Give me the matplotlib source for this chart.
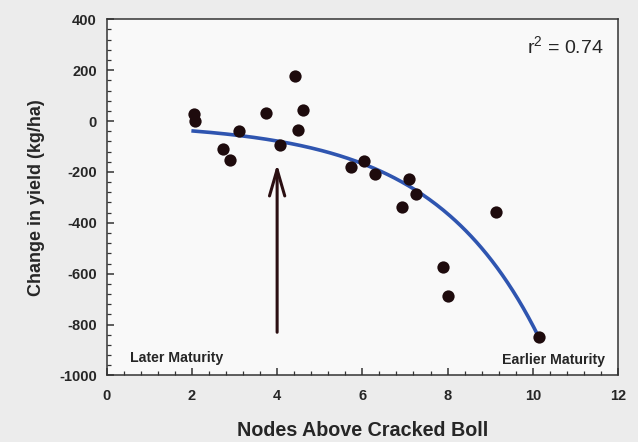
import numpy as np
import matplotlib.pyplot as plt
from matplotlib.patches import FancyArrowPatch
from matplotlib.ticker import MultipleLocator

# nodes above cracked boll vs change in yield (kg/ha)
nacb = [2.04, 2.08, 3.11, 2.73, 2.89, 3.73, 4.06, 4.41, 4.60, 4.49,
        5.73, 6.05, 6.30, 7.09, 7.27, 6.94, 9.13, 7.90, 8.00, 10.14]
yield_change = [29, 0, -39, -111, -152, 31, -93, 179, 42, -37,
                -181, -158, -209, -227, -288, -339, -357, -575, -688, -850]

# fitted curve: y = a + b*exp(k*x), drawn over the data range
fit_a, fit_b, fit_k = -6.1, -14.6, 0.40
fit_range = (2.03, 10.14)

arrow_x = 4.0
arrow_from, arrow_to = -841, -158

plt.rcParams['font.family'] = ['Liberation Sans', 'DejaVu Sans']
plt.rcParams['axes.unicode_minus'] = False
plt.rcParams['mathtext.fontset'] = 'custom'
plt.rcParams['mathtext.rm'] = 'Liberation Sans'
txt = '#262626'

fig = plt.figure(figsize=(6.38, 4.42), dpi=100, facecolor='#ececec')
ax = fig.add_axes([0.1672, 0.1505, 0.8015, 0.8058], facecolor='#f9f9f9')

xf = np.linspace(fit_range[0], fit_range[1], 200)
ax.plot(xf, fit_a + fit_b * np.exp(fit_k * xf), color='#2f55b0', lw=2.6, zorder=2)
ax.scatter(nacb, yield_change, s=78, color='#1e0b0d', zorder=3, linewidths=0)

arr = FancyArrowPatch((arrow_x, arrow_from), (arrow_x, arrow_to),
                      arrowstyle='->,head_length=19,head_width=5.5',
                      mutation_scale=1, color='#2b0f12', lw=2.2, zorder=4)
ax.add_patch(arr)

ax.text(11.67, 290, r'r$^{\mathrm{2}}$ = 0.74', ha='right', va='center', fontsize=14, color=txt)
ax.text(0.55, -931, 'Later Maturity', ha='left', va='center', fontsize=10.2,
        fontweight='bold', color=txt)
ax.text(11.7, -939, 'Earlier Maturity', ha='right', va='center', fontsize=10.2,
        fontweight='bold', color=txt)

ax.set_xlim(0, 12)
ax.set_ylim(-1000, 400)
ax.xaxis.set_major_locator(MultipleLocator(2))
ax.xaxis.set_minor_locator(MultipleLocator(0.4))
ax.yaxis.set_major_locator(MultipleLocator(200))
ax.yaxis.set_minor_locator(MultipleLocator(40))
ax.tick_params(which='both', direction='in', top=False, right=False, colors='#333333')
ax.tick_params(which='major', length=5, width=1.1, labelsize=10.5, pad=7)
ax.tick_params(axis='x', which='major', pad=10)
ax.tick_params(which='minor', length=3, width=0.9)
for lbl in ax.get_xticklabels() + ax.get_yticklabels():
    lbl.set_fontweight('bold')
    lbl.set_color(txt)
for sp in ax.spines.values():
    sp.set_color('#333333')
    sp.set_linewidth(1.1)

ax.set_xlabel('Nodes Above Cracked Boll', fontsize=14.2, fontweight='bold', color=txt, labelpad=13)
ax.set_ylabel('Change in yield (kg/ha)', fontsize=13, fontweight='bold', color=txt, labelpad=10)

fig.savefig('out.png', dpi=100, facecolor=fig.get_facecolor())
